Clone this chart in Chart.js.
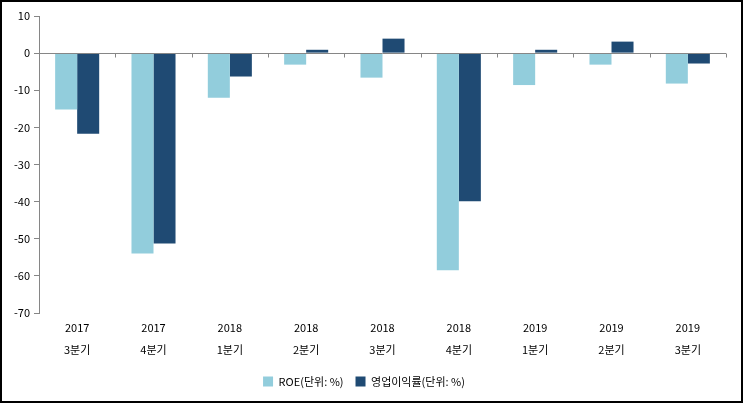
<!DOCTYPE html>
<html>
<head>
<meta charset="utf-8">
<script src="https://cdn.jsdelivr.net/npm/chart.js@4/dist/chart.umd.min.js"></script>
<style>
  html, body { margin: 0; padding: 0; background: #fff; }
  #wrap { position: relative; width: 743px; height: 403px; box-sizing: border-box; border: 2px solid #000; background: #fff; }
  #myChart { display: block; }
</style>
</head>
<body>
<div id="wrap"><canvas id="myChart" width="739" height="399"></canvas></div>
<script>
// categories (year / quarter)
const years = ["2017", "2017", "2018", "2018", "2018", "2018", "2019", "2019", "2019"];
const quarters = ["3분기", "4분기", "1분기", "2분기", "3분기", "4분기", "1분기", "2분기", "3분기"];

// series values
const roe = [-15.2, -54.0, -12.0, -3.1, -6.6, -58.5, -8.6, -3.1, -8.2];
const opMargin = [-21.7, -51.3, -6.3, 0.9, 3.9, -39.9, 0.9, 3.1, -2.8];

const yMin = -70;
const yMax = 10;
const yStep = 10;

const labels = years.map((y, i) => [y, quarters[i]]);
const axisGray = "#868686";
const font = { family: "'Noto Sans CJK KR', 'Noto Sans', sans-serif", size: 11 };

// little tick marks on the zero line between categories
const zeroTicks = {
  id: "zeroTicks",
  afterDatasetsDraw(chart) {
    const { ctx, chartArea, scales } = chart;
    const y0 = Math.round(scales.y.getPixelForValue(0)) + 0.5;
    const step = (chartArea.right - chartArea.left) / labels.length;
    ctx.save();
    ctx.strokeStyle = axisGray;
    ctx.lineWidth = 1;
    ctx.beginPath();
    ctx.moveTo(chartArea.left, y0);
    ctx.lineTo(chartArea.right, y0);
    for (let i = 1; i <= labels.length; i++) {
      const x = Math.round(chartArea.left + step * i) + 0.5;
      ctx.moveTo(x, y0);
      ctx.lineTo(x, y0 + 4);
    }
    ctx.stroke();
    ctx.restore();
  }
};

const data = {
  labels: labels,
  datasets: [{
    label: "ROE(단위: %)",
    backgroundColor: "#92CDDC",
    data: roe
  }, {
    label: "영업이익률(단위: %)",
    backgroundColor: "#1F4A73",
    data: opMargin
  }]
};

const config = {
  type: "bar",
  data,
  options: {
    responsive: false,
    animation: false,
    devicePixelRatio: 1,
    categoryPercentage: 0.577,
    barPercentage: 1.0,
    layout: { padding: { top: 14, right: 15, left: 0, bottom: 4 } },
    plugins: {
      legend: {
        position: "bottom",
        labels: {
          boxWidth: 10,
          boxHeight: 10,
          color: "#000",
          font: font,
          padding: 12
        }
      },
      tooltip: { enabled: false }
    },
    scales: {
      x: {
        grid: { display: false },
        border: { display: false },
        ticks: { color: "#000", font: { ...font, lineHeight: 2 }, maxRotation: 0, padding: -4 },
        afterFit(scale) { scale.height = 51; }
      },
      y: {
        min: yMin,
        max: yMax,
        ticks: { stepSize: yStep, color: "#000", font: font, padding: 4 },
        grid: {
          drawOnChartArea: false,
          tickLength: 5,
          tickColor: axisGray
        },
        border: { display: true, color: axisGray },
        afterFit(scale) { scale.width = 37; }
      }
    }
  },
  plugins: [zeroTicks]
};

var myChart = new Chart(document.getElementById("myChart"), config);
</script>
</body>
</html>
